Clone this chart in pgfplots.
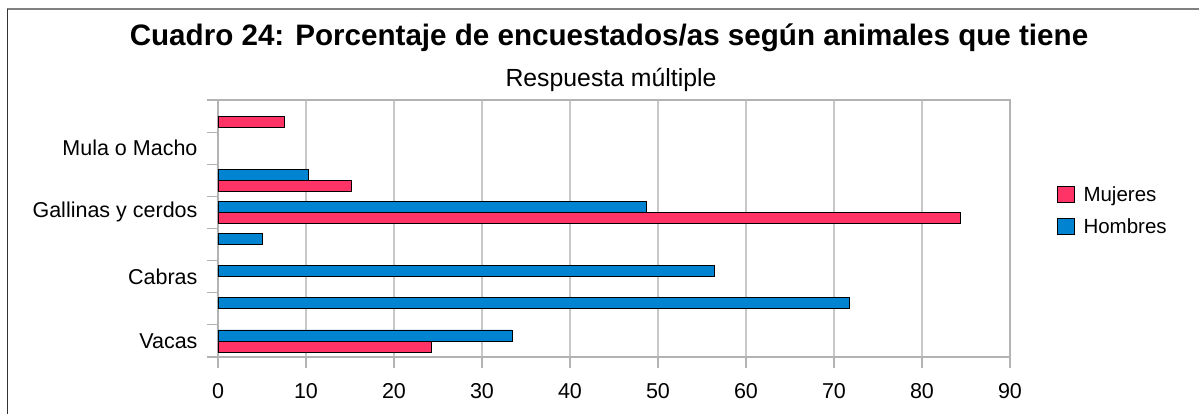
\documentclass[border=0pt]{standalone}
\usepackage{fontspec}
\setmainfont{Liberation Sans}
\usepackage{pgfplots}
\pgfplotsset{compat=1.18}
\definecolor{muj}{HTML}{FF3366}
\definecolor{hom}{HTML}{0084D1}
\definecolor{gridc}{HTML}{C8C8C8}
\definecolor{axc}{HTML}{B3B3B3}
\begin{document}
\begin{tikzpicture}[x=1pt,y=1pt]
\path[use as bounding box] (0,0) rectangle (1199,414);
\fill[white] (0,0) rectangle (1199,414);
\draw[color=black!50, line width=2pt] (7,404.5) -- (1199,404.5);
\draw[color=black!80, line width=1.6pt] (7.3,404.5) -- (7.3,0);
\node[anchor=base, inner sep=0pt, font=\fontsize{29.6}{34}\selectfont\bfseries] at (609,368) {Cuadro 24: Porcentaje de encuestados/as según animales que tiene};
\node[anchor=base, inner sep=0pt, font=\fontsize{24.8}{28}\selectfont] at (611,327) {Respuesta múltiple};
\begin{axis}[
 at={(218pt,57pt)}, anchor=south west, scale only axis,
 width=792pt, height=257pt,
 xbar=0pt, bar width=11pt,
 xmin=0, xmax=90, ymin=0.5, ymax=8.5,
 enlargelimits=false,
 xtick={0,10,...,90},
 ytick={0.5,1.5,...,8.5},
 yticklabels={},
 extra y ticks={1,3,5,7},
 extra y tick labels={Vacas,Cabras,Gallinas y cerdos,Mula o Macho},
 extra y tick style={tick style={draw=none}},
 xtick pos=bottom, ytick pos=left,
 tick align=outside,
 major tick length=11pt,
 xmajorgrids,
 grid style={gridc, line width=1.2pt},
 axis line style={axc, line width=1.2pt},
 tick style={axc, line width=1.2pt},
 tick label style={font=\fontsize{21.5}{25}\selectfont},
 xticklabel style={yshift=-12pt},
 yticklabel style={xshift=-6pt},
 /pgf/number format/assume math mode=true,
 legend style={at={(1.0596,0.666)}, anchor=north west, draw=none, fill=none,
   inner sep=0pt, outer sep=0pt,
   nodes={inner sep=0pt, outer sep=0pt},
   font=\fontsize{20.5}{24}\selectfont, row sep=14.5pt, column sep=9pt},
 legend cell align=left,
 legend image code/.code={\draw[#1] (0pt,-8.3pt) rectangle (16.5pt,8.3pt);},
]
\addplot[fill=muj, draw=black, line width=0.8pt] coordinates {(24.3,1) (84.4,5) (15.2,6) (7.6,8)};
\addplot[fill=hom, draw=black, line width=0.8pt] coordinates {(33.4,1) (71.8,2) (56.4,3) (5.1,4) (48.7,5) (10.3,6)};
\legend{Mujeres,Hombres}
\end{axis}
\end{tikzpicture}
\end{document}
